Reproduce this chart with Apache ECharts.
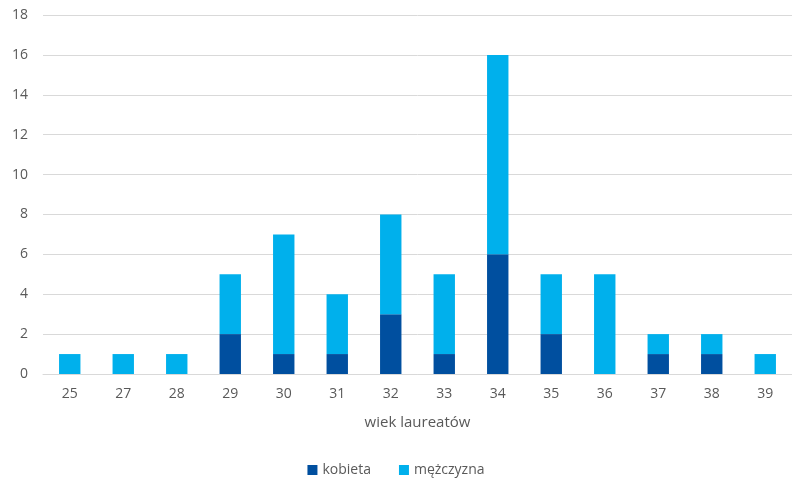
<!DOCTYPE html>
<html><head><meta charset="utf-8">
<script src="https://cdn.jsdelivr.net/npm/echarts@6/dist/echarts.min.js"></script>
<style>html,body{margin:0;padding:0;background:#fff}#c{width:792px;height:480px}</style>
</head><body><div id="c"></div>
<script>
const categories = ['25','27','28','29','30','31','32','33','34','35','36','37','38','39'];
const kobieta = [0,0,0,2,1,1,3,1,6,2,0,1,1,0];
const mezczyzna = [1,1,1,3,6,3,5,4,10,3,5,1,1,1];
const yTicks = [0,2,4,6,8,10,12,14,16,18];

const chart = echarts.init(document.getElementById('c'));
const font = 'Open Sans, sans-serif';
chart.setOption({
  animation:false,
  grid:{left:43,right:0,top:15,bottom:106},
  legend:{top:458,left:'center',itemWidth:10,itemHeight:10,itemGap:28,icon:'rect',
    textStyle:{color:'#595959',fontSize:14,fontFamily:font}},
  xAxis:{type:'category',data:categories,
    name:'wiek laureatów',nameLocation:'middle',nameGap:41,
    nameTextStyle:{color:'#595959',fontSize:15,fontFamily:font},
    axisLine:{lineStyle:{color:'#d9d9d9'}},axisTick:{show:false},
    axisLabel:{color:'#595959',fontSize:14,fontFamily:font,margin:13}},
  yAxis:{type:'value',min:yTicks[0],max:yTicks[yTicks.length-1],interval:2,
    axisLine:{show:false},axisTick:{show:false},
    axisLabel:{color:'#595959',fontSize:14,fontFamily:font,margin:15},
    splitLine:{lineStyle:{color:'#d9d9d9'}}},
  series:[
    {name:'kobieta',type:'bar',stack:'a',data:kobieta,barWidth:'40%',itemStyle:{color:'#004f9f'}},
    {name:'mężczyzna',type:'bar',stack:'a',data:mezczyzna,barWidth:'40%',itemStyle:{color:'#00b0ec'}}
  ]
});
</script></body></html>
